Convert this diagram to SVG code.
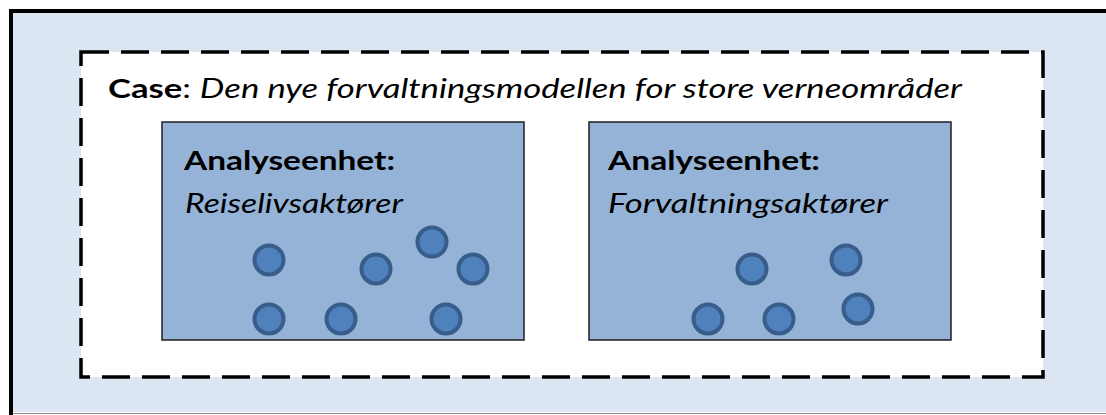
<svg xmlns="http://www.w3.org/2000/svg" width="1106" height="415" viewBox="0 0 1106 415">
<style>
.t{font-family:Lato,"Liberation Sans",sans-serif;fill:#000}
.b{font-weight:bold}
.i{font-style:italic}
.unit{fill:#95B3D7;stroke:#1F1F1F;stroke-width:1.5}
.actor{fill:#4F81BD;stroke:#385D8A;stroke-width:4}
</style>
<rect x="0" y="0" width="1106" height="415" fill="#FFFFFF"/>
<g id="outer">
<rect x="11" y="11" width="1100" height="401" fill="#DCE6F2"/>
<line x1="11" y1="9" x2="11" y2="415" stroke="#000" stroke-width="4"/>
<line x1="9" y1="11" x2="1106" y2="11" stroke="#000" stroke-width="4"/>
<line x1="13" y1="413.5" x2="1106" y2="413.5" stroke="#8A8A8A" stroke-width="1"/>
</g>
<g id="case">
<rect x="81" y="52" width="962" height="325" fill="#FFFFFF" stroke="#000" stroke-width="3.5" stroke-dasharray="28 12"/>
<text class="t" x="108" y="98" font-size="27" textLength="854" lengthAdjust="spacingAndGlyphs"><tspan class="b">Case</tspan>: <tspan class="i">Den nye forvaltningsmodellen for store verneområder</tspan></text>
</g>
<g id="unit1">
<rect class="unit" x="162" y="122" width="362" height="218"/>
<text class="t b" x="184" y="170" font-size="27" textLength="211" lengthAdjust="spacingAndGlyphs">Analyseenhet:</text>
<text class="t i" x="185" y="213" font-size="27" textLength="218" lengthAdjust="spacingAndGlyphs">Reiselivsaktører</text>
<circle class="actor" cx="269" cy="260" r="14.5"/>
<circle class="actor" cx="376" cy="269" r="14.5"/>
<circle class="actor" cx="432" cy="242" r="14.5"/>
<circle class="actor" cx="473" cy="269" r="14.5"/>
<circle class="actor" cx="269" cy="319" r="14.5"/>
<circle class="actor" cx="341" cy="319" r="14.5"/>
<circle class="actor" cx="446" cy="319" r="14.5"/>
</g>
<g id="unit2">
<rect class="unit" x="589" y="122" width="362" height="218"/>
<text class="t b" x="608" y="170" font-size="27" textLength="212" lengthAdjust="spacingAndGlyphs">Analyseenhet:</text>
<text class="t i" x="608" y="213" font-size="27" textLength="280" lengthAdjust="spacingAndGlyphs">Forvaltningsaktører</text>
<circle class="actor" cx="752" cy="269" r="14.5"/>
<circle class="actor" cx="846" cy="260" r="14.5"/>
<circle class="actor" cx="708" cy="319" r="14.5"/>
<circle class="actor" cx="779" cy="319" r="14.5"/>
<circle class="actor" cx="858" cy="309" r="14.5"/>
</g>
<g id="connectors"/>
</svg>
